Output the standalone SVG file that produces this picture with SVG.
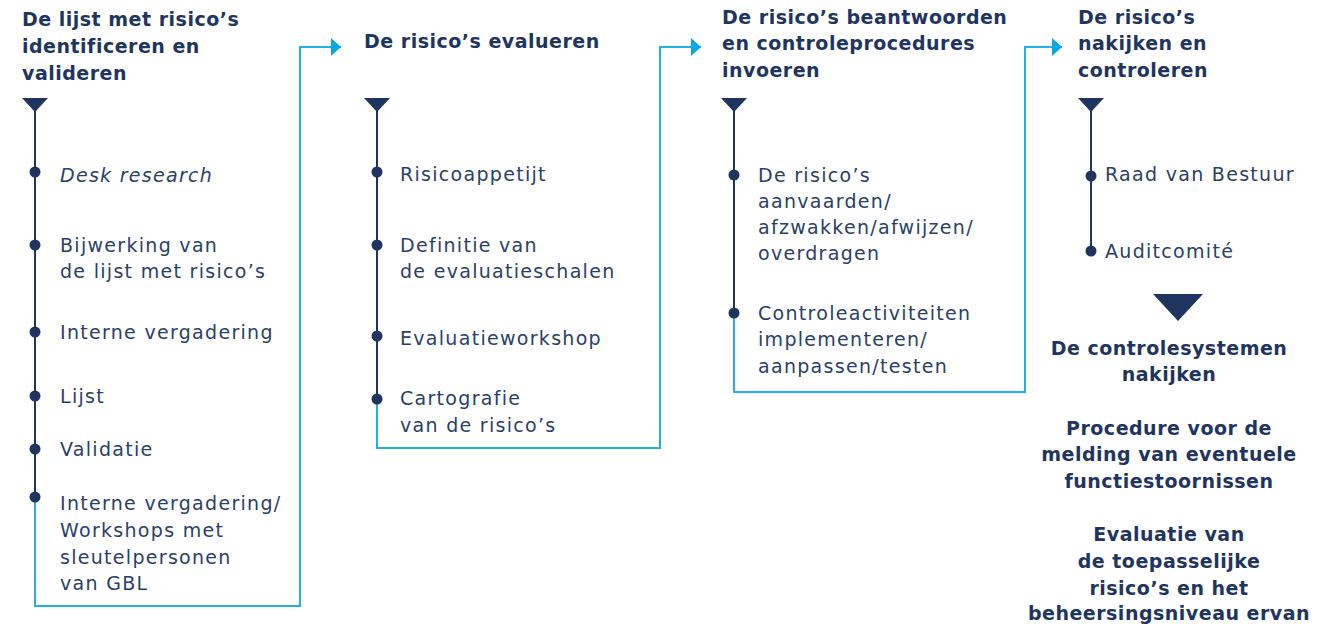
<svg xmlns="http://www.w3.org/2000/svg" width="1341" height="624" viewBox="0 0 1341 624">
<defs>
<style>
.t{font-family:"DejaVu Sans","Liberation Sans",sans-serif;font-size:19px;font-weight:bold;letter-spacing:0.5px;fill:#1f3561}
.r{font-family:"DejaVu Sans","Liberation Sans",sans-serif;font-size:19px;letter-spacing:1.3px;fill:#2b4068}
.c{text-anchor:middle}
.nav{stroke:#1f3560;stroke-width:2;fill:none}
.cy{stroke:#22b0e6;stroke-width:2;fill:none}
.dot{fill:#1f3560}
.tri{fill:#1f3560}
</style>
<marker id="ah" viewBox="0 0 10 18" refX="10" refY="9" markerWidth="10" markerHeight="18" markerUnits="userSpaceOnUse" orient="auto">
<path d="M0,0 L10,9 L0,18 Z" fill="#0aa8e2"/>
</marker>
</defs>
<rect width="1341" height="624" fill="#ffffff"/>

<g id="connectors">
<path class="cy" d="M35,497 V606 H300 V47 H341" marker-end="url(#ah)"/>
<path class="cy" d="M377,398 V448 H660 V47 H701" marker-end="url(#ah)"/>
<path class="cy" d="M734,313 V392 H1025 V47 H1062" marker-end="url(#ah)"/>
</g>

<g id="col1">
<text class="t" x="22" y="26">De lijst met risico’s</text>
<text class="t" x="22" y="53">identificeren en</text>
<text class="t" x="22" y="80">valideren</text>
<polygon class="tri" points="22,98 48,98 35,112"/>
<line class="nav" x1="35" y1="110" x2="35" y2="497"/>
<circle class="dot" cx="35" cy="172" r="5.5"/>
<circle class="dot" cx="35" cy="245" r="5.5"/>
<circle class="dot" cx="35" cy="332" r="5.5"/>
<circle class="dot" cx="35" cy="396" r="5.5"/>
<circle class="dot" cx="35" cy="449" r="5.5"/>
<circle class="dot" cx="35" cy="497" r="5.5"/>
<text class="r" x="60" y="182" font-style="italic">Desk research</text>
<text class="r" x="60" y="252">Bijwerking van</text>
<text class="r" x="60" y="278">de lijst met risico’s</text>
<text class="r" x="60" y="339">Interne vergadering</text>
<text class="r" x="60" y="403">Lijst</text>
<text class="r" x="60" y="456">Validatie</text>
<text class="r" x="60" y="510">Interne vergadering/</text>
<text class="r" x="60" y="537">Workshops met</text>
<text class="r" x="60" y="564">sleutelpersonen</text>
<text class="r" x="60" y="590">van GBL</text>
</g>

<g id="col2">
<text class="t" x="364" y="48">De risico’s evalueren</text>
<polygon class="tri" points="364,98 390,98 377,112"/>
<line class="nav" x1="377" y1="110" x2="377" y2="398"/>
<circle class="dot" cx="377" cy="172" r="5.5"/>
<circle class="dot" cx="377" cy="245" r="5.5"/>
<circle class="dot" cx="377" cy="336" r="5.5"/>
<circle class="dot" cx="377" cy="399" r="5.5"/>
<text class="r" x="400" y="181">Risicoappetijt</text>
<text class="r" x="400" y="252">Definitie van</text>
<text class="r" x="400" y="278">de evaluatieschalen</text>
<text class="r" x="400" y="345">Evaluatieworkshop</text>
<text class="r" x="400" y="405">Cartografie</text>
<text class="r" x="400" y="432">van de risico’s</text>
</g>

<g id="col3">
<text class="t" x="722" y="24">De risico’s beantwoorden</text>
<text class="t" x="722" y="50">en controleprocedures</text>
<text class="t" x="722" y="77">invoeren</text>
<polygon class="tri" points="721,98 747,98 734,112"/>
<line class="nav" x1="734" y1="110" x2="734" y2="313"/>
<circle class="dot" cx="734" cy="175" r="5.5"/>
<circle class="dot" cx="734" cy="313" r="5.5"/>
<text class="r" x="758" y="182">De risico’s</text>
<text class="r" x="758" y="208">aanvaarden/</text>
<text class="r" x="758" y="234">afzwakken/afwijzen/</text>
<text class="r" x="758" y="260">overdragen</text>
<text class="r" x="758" y="320">Controleactiviteiten</text>
<text class="r" x="758" y="346">implementeren/</text>
<text class="r" x="758" y="373">aanpassen/testen</text>
</g>

<g id="col4">
<text class="t" x="1078" y="24">De risico’s</text>
<text class="t" x="1078" y="50">nakijken en</text>
<text class="t" x="1078" y="77">controleren</text>
<polygon class="tri" points="1078,98 1104,98 1091,112"/>
<line class="nav" x1="1091" y1="110" x2="1091" y2="251"/>
<circle class="dot" cx="1091" cy="176" r="5.5"/>
<circle class="dot" cx="1091" cy="251" r="5.5"/>
<text class="r" x="1105" y="181">Raad van Bestuur</text>
<text class="r" x="1105" y="258">Auditcomité</text>
</g>

<g id="review">
<polygon class="tri" points="1153,294 1203,294 1178,321"/>
<text class="t c" x="1169" y="355">De controlesystemen</text>
<text class="t c" x="1169" y="381">nakijken</text>
<text class="t c" x="1169" y="435">Procedure voor de</text>
<text class="t c" x="1169" y="461">melding van eventuele</text>
<text class="t c" x="1169" y="488">functiestoornissen</text>
<text class="t c" x="1169" y="541">Evaluatie van</text>
<text class="t c" x="1169" y="568">de toepasselijke</text>
<text class="t c" x="1169" y="595">risico’s en het</text>
<text class="t c" x="1169" y="620">beheersingsniveau ervan</text>
</g>
</svg>
